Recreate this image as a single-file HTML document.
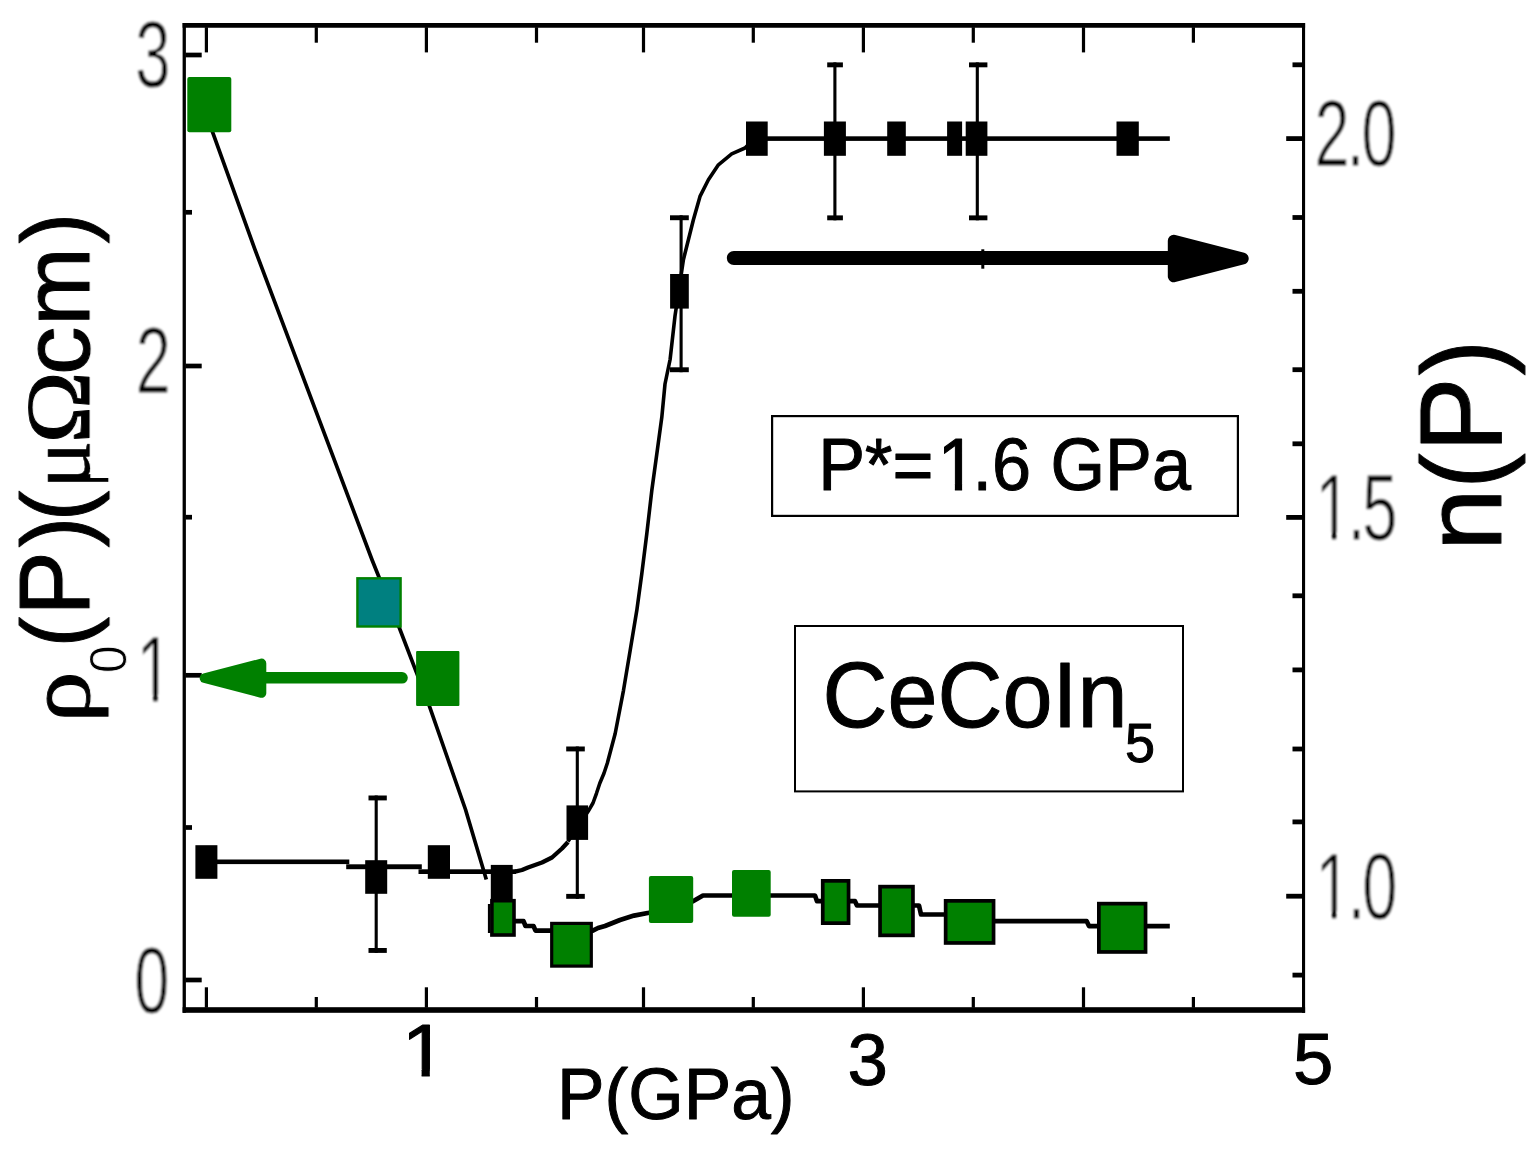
<!DOCTYPE html>
<html lang="en">
<head>
<meta charset="utf-8">
<title>CeCoIn5 pressure dependence</title>
<style>
html,body{margin:0;padding:0;background:#fff;}
body{width:1538px;height:1155px;overflow:hidden;}
svg{display:block;}
text{fill:#000;}
</style>
</head>
<body>
<svg width="1538" height="1155" viewBox="0 0 1538 1155">
<defs><filter id="soft" x="0" y="0" width="1538" height="1155" filterUnits="userSpaceOnUse"><feGaussianBlur stdDeviation="0.9"/></filter></defs>
<rect x="0" y="0" width="1538" height="1155" fill="#fff"/>
<rect x="182.60" y="23.00" width="1122.50" height="4.75" fill="#000"/>
<rect x="182.60" y="1007.20" width="1122.50" height="5.60" fill="#000"/>
<rect x="182.60" y="23.00" width="3.30" height="989.80" fill="#000"/>
<rect x="1302.00" y="23.00" width="3.10" height="989.80" fill="#000"/>
<rect x="204.80" y="27.25" width="3.20" height="25.15" fill="#000"/>
<rect x="204.80" y="987.30" width="3.20" height="20.40" fill="#000"/>
<rect x="314.70" y="27.25" width="3.20" height="15.45" fill="#000"/>
<rect x="314.70" y="997.00" width="3.20" height="10.70" fill="#000"/>
<rect x="424.80" y="27.25" width="3.20" height="25.15" fill="#000"/>
<rect x="424.80" y="987.30" width="3.20" height="20.40" fill="#000"/>
<rect x="534.90" y="27.25" width="3.20" height="15.45" fill="#000"/>
<rect x="534.90" y="997.00" width="3.20" height="10.70" fill="#000"/>
<rect x="641.90" y="27.25" width="3.20" height="25.15" fill="#000"/>
<rect x="641.90" y="987.30" width="3.20" height="20.40" fill="#000"/>
<rect x="751.70" y="27.25" width="3.20" height="15.45" fill="#000"/>
<rect x="751.70" y="997.00" width="3.20" height="10.70" fill="#000"/>
<rect x="861.80" y="27.25" width="3.20" height="25.15" fill="#000"/>
<rect x="861.80" y="987.30" width="3.20" height="20.40" fill="#000"/>
<rect x="971.70" y="27.25" width="3.20" height="15.45" fill="#000"/>
<rect x="971.70" y="997.00" width="3.20" height="10.70" fill="#000"/>
<rect x="1081.90" y="27.25" width="3.20" height="25.15" fill="#000"/>
<rect x="1081.90" y="987.30" width="3.20" height="20.40" fill="#000"/>
<rect x="1191.80" y="27.25" width="3.20" height="15.45" fill="#000"/>
<rect x="1191.80" y="997.00" width="3.20" height="10.70" fill="#000"/>
<rect x="185.40" y="52.65" width="16.30" height="4.70" fill="#000"/>
<rect x="185.40" y="209.95" width="6.60" height="4.70" fill="#000"/>
<rect x="185.40" y="363.65" width="16.30" height="4.70" fill="#000"/>
<rect x="185.40" y="514.85" width="6.60" height="4.70" fill="#000"/>
<rect x="185.40" y="672.95" width="16.30" height="4.70" fill="#000"/>
<rect x="185.40" y="825.15" width="6.60" height="4.70" fill="#000"/>
<rect x="185.40" y="977.65" width="16.30" height="4.70" fill="#000"/>
<rect x="1292.50" y="62.40" width="10.00" height="4.80" fill="#000"/>
<rect x="1286.20" y="136.20" width="16.30" height="4.80" fill="#000"/>
<rect x="1292.50" y="215.10" width="10.00" height="4.80" fill="#000"/>
<rect x="1292.50" y="288.90" width="10.00" height="4.80" fill="#000"/>
<rect x="1292.50" y="367.30" width="10.00" height="4.80" fill="#000"/>
<rect x="1292.50" y="441.40" width="10.00" height="4.80" fill="#000"/>
<rect x="1286.20" y="515.00" width="16.30" height="4.80" fill="#000"/>
<rect x="1292.50" y="593.40" width="10.00" height="4.80" fill="#000"/>
<rect x="1292.50" y="667.50" width="10.00" height="4.80" fill="#000"/>
<rect x="1292.50" y="746.60" width="10.00" height="4.80" fill="#000"/>
<rect x="1292.50" y="819.50" width="10.00" height="4.80" fill="#000"/>
<rect x="1286.20" y="893.80" width="16.30" height="4.80" fill="#000"/>
<rect x="1292.50" y="972.70" width="10.00" height="4.80" fill="#000"/>
<polyline points="209.0,122.0 212.5,131.8 254.9,249.4 372.1,560.0 399.4,628.0 429.4,706.1 448.2,760.0 465.5,809.5 486.3,879.5" fill="none" stroke="#000" stroke-width="3.7" stroke-linejoin="round"/>
<rect x="487.90" y="904.00" width="2.70" height="29.00" fill="#000"/>
<polyline points="515.0,921.1 523.5,921.1 525.5,926.0 533.5,926.0 535.5,930.6 592.8,930.6 598.0,928.0 605.0,926.0 620.0,920.0 634.0,915.6 649.0,912.8 693.0,901.2 703.0,895.5 815.0,895.5 817.0,901.2 855.0,901.2 857.0,905.5 919.0,905.5 921.0,914.5 944.0,914.5 995.0,921.1 1086.6,921.1 1089.0,926.1 1169.8,926.1" fill="none" stroke="#000" stroke-width="4.7" stroke-linejoin="round"/>
<rect x="206.00" y="859.50" width="143.30" height="4.60" fill="#000"/>
<rect x="346.20" y="864.30" width="75.60" height="4.90" fill="#000"/>
<rect x="418.50" y="869.30" width="97.50" height="4.70" fill="#000"/>
<polyline points="515.0,871.7 522.0,870.0 528.0,867.5 542.0,862.5 552.0,857.5 557.0,853.0 562.0,848.5 568.0,842.0" fill="none" stroke="#000" stroke-width="4.3" stroke-linejoin="round"/>
<polyline points="568.0,841.5 577.0,828.0 588.0,811.6 593.0,803.0 596.5,793.3 599.8,783.3 604.0,773.3 607.3,763.3 615.2,733.5 623.5,690.3 630.2,650.3 636.8,610.4 641.8,573.7 646.8,533.8 651.8,490.5 656.8,453.9 661.8,417.3 665.0,384.0 670.1,359.5 675.0,316.0 683.4,259.7 693.4,219.7 700.0,196.4 708.4,179.8 718.4,164.8 731.7,153.8 745.0,148.0 750.0,143.0" fill="none" stroke="#000" stroke-width="3.6" stroke-linejoin="round"/>
<rect x="750.00" y="136.30" width="419.80" height="4.60" fill="#000"/>
<rect x="374.65" y="795.50" width="3.10" height="157.40" fill="#000"/>
<rect x="368.50" y="795.50" width="18.30" height="4.90" fill="#000"/>
<rect x="368.50" y="948.00" width="18.30" height="4.90" fill="#000"/>
<rect x="575.75" y="746.50" width="3.10" height="152.30" fill="#000"/>
<rect x="566.20" y="746.50" width="18.60" height="4.90" fill="#000"/>
<rect x="566.20" y="893.90" width="18.60" height="4.90" fill="#000"/>
<rect x="679.55" y="215.30" width="3.10" height="156.90" fill="#000"/>
<rect x="670.00" y="215.30" width="18.80" height="4.90" fill="#000"/>
<rect x="670.00" y="367.30" width="18.80" height="4.90" fill="#000"/>
<rect x="833.35" y="62.40" width="3.10" height="157.90" fill="#000"/>
<rect x="827.20" y="62.40" width="15.70" height="4.90" fill="#000"/>
<rect x="827.20" y="215.40" width="15.70" height="4.90" fill="#000"/>
<rect x="975.75" y="62.40" width="3.10" height="157.90" fill="#000"/>
<rect x="969.00" y="62.40" width="18.40" height="4.90" fill="#000"/>
<rect x="969.00" y="215.40" width="18.40" height="4.90" fill="#000"/>
<rect x="195.40" y="845.20" width="22.00" height="33.60" fill="#000"/>
<rect x="365.20" y="860.20" width="22.00" height="33.60" fill="#000"/>
<rect x="427.80" y="845.20" width="22.20" height="33.60" fill="#000"/>
<rect x="490.80" y="864.90" width="21.90" height="34.10" fill="#000"/>
<rect x="566.50" y="805.40" width="21.60" height="34.50" fill="#000"/>
<rect x="670.10" y="274.00" width="18.70" height="34.60" fill="#000"/>
<rect x="746.00" y="121.50" width="21.70" height="34.30" fill="#000"/>
<rect x="823.90" y="121.50" width="22.00" height="34.30" fill="#000"/>
<rect x="887.20" y="121.50" width="18.60" height="34.30" fill="#000"/>
<rect x="947.10" y="121.50" width="15.00" height="34.30" fill="#000"/>
<rect x="965.70" y="121.50" width="21.70" height="34.30" fill="#000"/>
<rect x="1116.50" y="121.50" width="22.30" height="34.30" fill="#000"/>
<rect x="187.30" y="77.00" width="44.00" height="55.30" fill="#008000" rx="2"/>
<rect x="357.40" y="578.30" width="43.20" height="48.20" fill="#008080" stroke="#008000" stroke-width="2.4"/>
<rect x="416.10" y="651.00" width="43.30" height="54.90" fill="#008000" rx="1"/>
<rect x="491.90" y="900.70" width="22.10" height="34.30" fill="#008000" stroke="#000" stroke-width="3.6"/>
<rect x="551.70" y="923.40" width="39.60" height="42.70" fill="#008000" stroke="#000" stroke-width="3.2"/>
<rect x="648.90" y="876.00" width="44.30" height="47.00" fill="#008000" rx="2"/>
<rect x="732.00" y="869.90" width="38.70" height="46.90" fill="#008000" rx="2"/>
<rect x="822.75" y="880.85" width="25.80" height="42.30" fill="#008000" stroke="#000" stroke-width="3.7"/>
<rect x="880.05" y="886.65" width="32.90" height="48.70" fill="#008000" stroke="#000" stroke-width="3.7"/>
<rect x="945.65" y="900.85" width="47.90" height="42.10" fill="#008000" stroke="#000" stroke-width="3.7"/>
<rect x="1098.85" y="903.65" width="46.70" height="48.30" fill="#008000" stroke="#000" stroke-width="3.7"/>
<line x1="733.8" y1="258" x2="1180" y2="258" stroke="#000" stroke-width="14" stroke-linecap="round"/>
<rect x="981.30" y="249.30" width="3.00" height="19.40" fill="#000"/>
<path d="M1173.8,240.7 L1242.7,258.5 L1173.8,276.3 Z" fill="#000" stroke="#000" stroke-width="12" stroke-linejoin="round"/>
<line x1="402" y1="677.8" x2="260" y2="677.8" stroke="#008000" stroke-width="11.6" stroke-linecap="round"/>
<path d="M261.5,663.4 L204.5,678.2 L261.5,693 Z" fill="#008000" stroke="#008000" stroke-width="9.6" stroke-linejoin="round"/>
<rect x="772.10" y="416.10" width="465.80" height="99.80" fill="#fff" stroke="#000" stroke-width="2.2"/>
<rect x="795.00" y="626.00" width="388.00" height="165.40" fill="#fff" stroke="#000" stroke-width="2"/>
<g filter="url(#soft)">
<text transform="translate(135.34,86.60) scale(0.67,1)" font-size="94.3" font-family="Liberation Sans, Arial, Helvetica, sans-serif" stroke="#fff" stroke-width="0.8" vector-effect="non-scaling-stroke">3</text>
<text transform="translate(135.74,392.60) scale(0.67,1)" font-size="94.3" font-family="Liberation Sans, Arial, Helvetica, sans-serif" stroke="#fff" stroke-width="0.8" vector-effect="non-scaling-stroke">2</text>
<clipPath id="c1"><path d="M-2000,-2000 H2000 V2000 H49.73 V-7.72 H31.00 V2000 H24.76 V-7.72 H5.76 V2000 H-2000 Z"/></clipPath>
<text transform="translate(136.73,702.40) scale(0.67,1)" font-size="94.3" font-family="Liberation Sans, Arial, Helvetica, sans-serif" stroke="#fff" stroke-width="0.8" vector-effect="non-scaling-stroke" clip-path="url(#c1)">1</text>
<text transform="translate(134.33,1012.90) scale(0.67,1)" font-size="94.3" font-family="Liberation Sans, Arial, Helvetica, sans-serif" stroke="#fff" stroke-width="0.8" vector-effect="non-scaling-stroke">0</text>
<text transform="translate(1314.50,165.60) scale(0.67,1)" font-size="94.3" font-family="Liberation Sans, Arial, Helvetica, sans-serif" stroke="#fff" stroke-width="0.8" vector-effect="non-scaling-stroke" letter-spacing="-4.3">2.0</text>
<clipPath id="c2"><path d="M-2000,-2000 H2000 V2000 H49.73 V-7.72 H31.00 V2000 H24.76 V-7.72 H5.76 V2000 H-2000 Z"/></clipPath>
<text transform="translate(1315.40,540.30) scale(0.67,1)" font-size="94.3" font-family="Liberation Sans, Arial, Helvetica, sans-serif" stroke="#fff" stroke-width="0.8" vector-effect="non-scaling-stroke" letter-spacing="-4.3" clip-path="url(#c2)">1.5</text>
<clipPath id="c3"><path d="M-2000,-2000 H2000 V2000 H49.73 V-7.72 H31.00 V2000 H24.76 V-7.72 H5.76 V2000 H-2000 Z"/></clipPath>
<text transform="translate(1315.40,919.30) scale(0.67,1)" font-size="94.3" font-family="Liberation Sans, Arial, Helvetica, sans-serif" stroke="#fff" stroke-width="0.8" vector-effect="non-scaling-stroke" letter-spacing="-4.3" clip-path="url(#c3)">1.0</text>
</g>
<clipPath id="c4"><path d="M-2000,-2000 H2000 V2000 H39.02 V-6.25 H25.60 V2000 H18.15 V-6.25 H4.52 V2000 H-2000 Z"/></clipPath>
<text transform="translate(401.64,1075.80) scale(1.1,1)" font-size="74" font-family="Liberation Sans, Arial, Helvetica, sans-serif" stroke="#000" stroke-width="1.0" stroke-linejoin="round" clip-path="url(#c4)">1</text>
<text transform="translate(847.43,1084.50)" font-size="72.6" font-family="Liberation Sans, Arial, Helvetica, sans-serif" stroke="#000" stroke-width="1.0" stroke-linejoin="round">3</text>
<text transform="translate(1292.99,1084.40)" font-size="72.6" font-family="Liberation Sans, Arial, Helvetica, sans-serif" stroke="#000" stroke-width="1.0" stroke-linejoin="round">5</text>
<text transform="translate(556.90,1118.50) scale(1,1.02)" font-size="71.3" font-family="Liberation Sans, Arial, Helvetica, sans-serif" stroke="#000" stroke-width="1.0" stroke-linejoin="round">P(GPa)</text>
<clipPath id="c5"><path d="M-2000,-2000 H2000 V2000 H156.46 V-5.93 H143.80 V2000 H136.59 V-5.93 H123.72 V2000 H-2000 Z"/></clipPath>
<text transform="translate(818.30,489.90) scale(1,1.045)" font-size="70.2" font-family="Liberation Sans, Arial, Helvetica, sans-serif" stroke="#000" stroke-width="1.0" stroke-linejoin="round" clip-path="url(#c5)">P*=<tspan x="119.44">1</tspan><tspan x="154.18">.6 GPa</tspan></text>
<text transform="translate(822.40,726.60) scale(1,1.04)" font-size="90" font-family="Liberation Sans, Arial, Helvetica, sans-serif" stroke="#000" stroke-width="1.0" stroke-linejoin="round">CeCoIn<tspan x="302.70" dy="33.85" font-size="54">5</tspan></text>
<text transform="translate(1500.9,551) rotate(-90)" font-size="112.5" font-family="Liberation Sans, Arial, Helvetica, sans-serif" stroke="#000" stroke-width="1.0" stroke-linejoin="round"><tspan x="0.00" font-size="109.7" textLength="62.57" lengthAdjust="spacingAndGlyphs">n</tspan><tspan x="62.20" font-size="112.5" textLength="35.59" lengthAdjust="spacingAndGlyphs">(</tspan><tspan x="98.80" font-size="116.4" textLength="75.00" lengthAdjust="spacingAndGlyphs">P</tspan><tspan x="175.60" font-size="112.5" textLength="35.59" lengthAdjust="spacingAndGlyphs">)</tspan></text>
<clipPath id="cmu"><path d="M-2000,-2000 H2000 V2000 H279.5 V1.2 H242.02 V2000 H-2000 Z"/></clipPath>
<text transform="translate(89.1,720) rotate(-90)" font-size="97" font-family="Liberation Sans, Arial, Helvetica, sans-serif" stroke="#000" stroke-width="1.0" stroke-linejoin="round" clip-path="url(#cmu)"><tspan x="-2.74" font-size="88" textLength="51.38" lengthAdjust="spacingAndGlyphs" font-family="Liberation Serif, Times New Roman, serif">ρ</tspan><tspan x="46.73" dy="36.9" font-size="52.5" textLength="28.03" lengthAdjust="spacingAndGlyphs" stroke="#fff" stroke-width="0.9">0</tspan><tspan x="72.49" dy="-36.9" font-size="97" textLength="30.69" lengthAdjust="spacingAndGlyphs">(</tspan><tspan x="104.15" font-size="99.4" textLength="64.64" lengthAdjust="spacingAndGlyphs">P</tspan><tspan x="172.46" font-size="97" textLength="30.69" lengthAdjust="spacingAndGlyphs">)</tspan><tspan x="198.79" font-size="97" textLength="30.69" lengthAdjust="spacingAndGlyphs">(</tspan><tspan x="231.10" font-size="88" textLength="48.60" lengthAdjust="spacingAndGlyphs" font-family="Liberation Serif, Times New Roman, serif" stroke-width="0.5">μ</tspan><tspan x="276.57" font-size="90" textLength="72.24" lengthAdjust="spacingAndGlyphs" font-family="Liberation Serif, Times New Roman, serif">Ω</tspan><tspan x="344.90" font-size="94.6" textLength="48.48" lengthAdjust="spacingAndGlyphs">c</tspan><tspan x="394.20" font-size="94.6" textLength="78.41" lengthAdjust="spacingAndGlyphs">m</tspan><tspan x="476.46" font-size="97" textLength="30.69" lengthAdjust="spacingAndGlyphs">)</tspan></text>
</svg>
</body>
</html>
